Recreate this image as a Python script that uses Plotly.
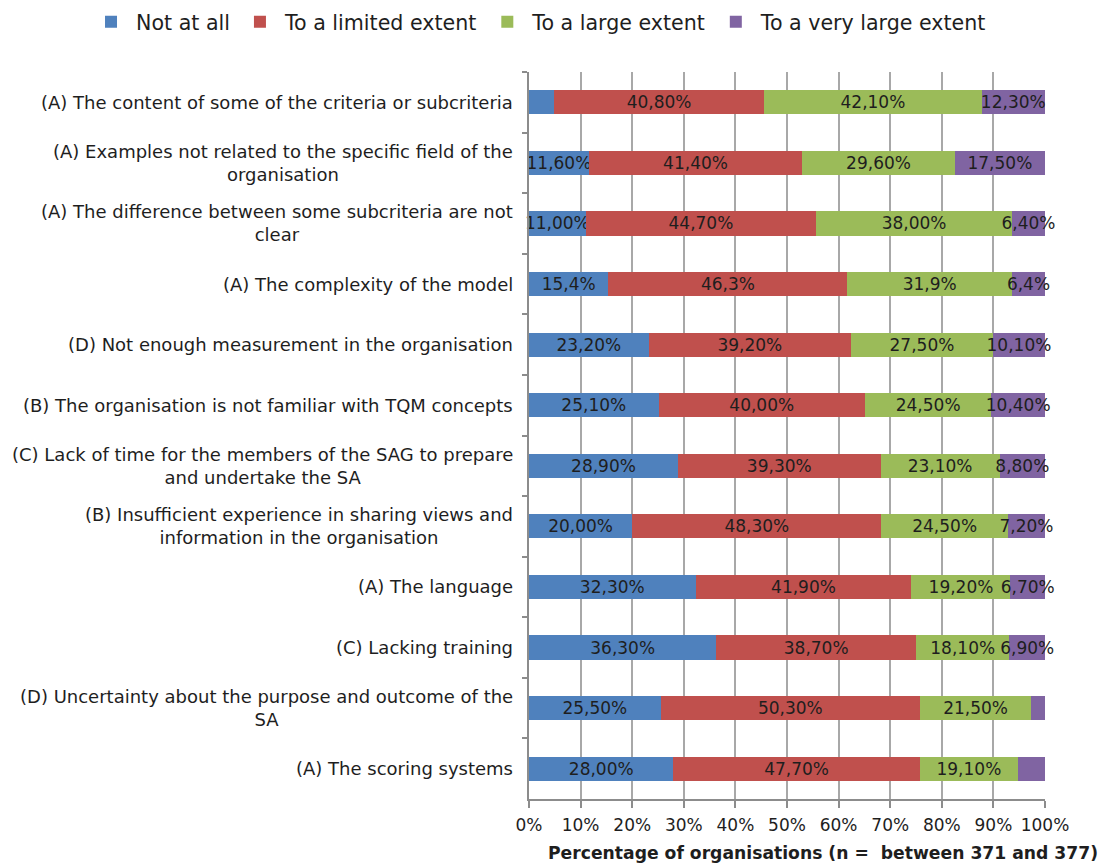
import plotly.graph_objects as go

# Survey items, listed top to bottom as they appear on the chart
categories = [
    "(A) The content of some of the criteria or subcriteria",
    "(A) Examples not related to the specific field of the<br>organisation",
    "(A) The difference between some subcriteria are not<br>clear",
    "(A) The complexity of the model",
    "(D) Not enough measurement in the organisation",
    "(B) The organisation is not familiar with TQM concepts",
    "(C) Lack of time for the members of the SAG to prepare<br>and undertake the SA",
    "(B) Insufficient experience in sharing views and<br>information in the organisation",
    "(A) The language",
    "(C) Lacking training",
    "(D) Uncertainty about the purpose and outcome of the<br>SA",
    "(A) The scoring systems",
]

series_names = ["Not at all", "To a limited extent", "To a large extent", "To a very large extent"]
not_at_all = [4.8, 11.6, 11.0, 15.4, 23.2, 25.1, 28.9, 20.0, 32.3, 36.3, 25.5, 28.0]
limited_extent = [40.8, 41.4, 44.7, 46.3, 39.2, 40.0, 39.3, 48.3, 41.9, 38.7, 50.3, 47.7]
large_extent = [42.1, 29.6, 38.0, 31.9, 27.5, 24.5, 23.1, 24.5, 19.2, 18.1, 21.5, 19.1]
very_large_extent = [12.3, 17.5, 6.4, 6.4, 10.1, 10.4, 8.8, 7.2, 6.7, 6.9, 2.7, 5.2]

# decimals used in each row's value labels
label_decimals = [2, 2, 2, 1, 2, 2, 2, 2, 2, 2, 2, 2]
# segments drawn without a value label: (series index, row index)
unlabelled = {(0, 0), (3, 10), (3, 11)}

colors = ["#4f81bd", "#c0504d", "#9bbb59", "#8064a2"]
x_ticks = list(range(0, 101, 10))

FONT = "DejaVu Sans"
TEXT = "#1e1e1e"
GRID = "#a8a8a8"
AXIS = "#8c8c8c"


def fmt(value, decimals):
    return f"{value:.{decimals}f}%".replace(".", ",")


fig = go.Figure()
for s, (name, values, color) in enumerate(
    zip(series_names, [not_at_all, limited_extent, large_extent, very_large_extent], colors)
):
    labels = [
        "" if (s, i) in unlabelled else fmt(v, label_decimals[i])
        for i, v in enumerate(values)
    ]
    fig.add_trace(
        go.Bar(
            name=name,
            y=categories,
            x=values,
            orientation="h",
            marker=dict(color=color, line=dict(width=0)),
            text=labels,
            textposition="inside",
            insidetextanchor="middle",
            textangle=0,
            textfont=dict(family=FONT, size=17, color=TEXT),
            cliponaxis=False,
            hoverinfo="skip",
        )
    )

# category labels, right-aligned to the axis with centred wrapped lines
for cat in categories:
    fig.add_annotation(
        x=0, xref="paper", y=cat, yref="y",
        text=cat, showarrow=False,
        xanchor="right", yanchor="middle", xshift=-14,
        align="center",
        font=dict(family=FONT, size=18, color=TEXT),
    )

# axis title
fig.add_annotation(
    x=0.033, xref="paper", y=-0.074, yref="paper",
    text="<b>Percentage of organisations (n =  between 371 and 377)</b>",
    showarrow=False, xanchor="left", yanchor="middle",
    font=dict(family=FONT, size=17.2, color=TEXT),
)

fig.update_layout(
    width=1108, height=864,
    margin=dict(l=529, r=63, t=72, b=65, autoexpand=False),
    paper_bgcolor="white", plot_bgcolor="white",
    barmode="stack", barnorm="percent", bargap=0.6,
    uniformtext=dict(minsize=17, mode="show"),
    font=dict(family=FONT, color=TEXT),
    showlegend=True,
    legend=dict(
        orientation="h",
        x=-0.8585, y=1.069, xanchor="left", yanchor="middle",
        font=dict(family=FONT, size=20.6, color=TEXT),
        itemwidth=40,
        traceorder="normal",
    ),
    xaxis=dict(
        range=[0, 100], tickvals=x_ticks, ticktext=[f"{t}%" for t in x_ticks],
        showgrid=True, gridcolor=GRID, gridwidth=2,
        showline=True, linecolor=AXIS, linewidth=2,
        ticks="outside", ticklen=7, tickwidth=2, tickcolor=AXIS,
        ticklabelstandoff=3,
        tickfont=dict(family=FONT, size=17, color=TEXT),
        zeroline=False, fixedrange=True,
    ),
    yaxis=dict(
        type="category", autorange="reversed",
        showline=True, linecolor=AXIS, linewidth=2,
        ticks="outside", tickson="boundaries", ticklen=5, tickwidth=2, tickcolor=AXIS,
        showticklabels=False, showgrid=False, zeroline=False, fixedrange=True,
    ),
)

fig.write_html("out.html")
